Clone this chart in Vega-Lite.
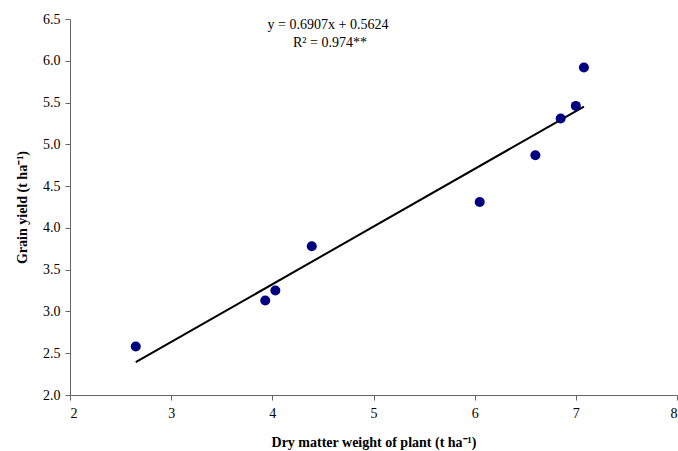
{
  "$schema": "https://vega.github.io/schema/vega-lite/v6.json",
  "width": 607,
  "height": 376,
  "autosize": {"type": "none"},
  "padding": {"left": 70, "top": 19, "right": 1, "bottom": 56},
  "background": "white",
  "config": {
    "view": {"stroke": null},
    "font": "Liberation Serif",
    "axis": {
      "grid": false,
      "domainColor": "#666666",
      "tickColor": "#666666",
      "tickSize": 5,
      "labelFont": "Liberation Serif",
      "labelFontSize": 14,
      "labelColor": "#000",
      "titleFont": "Liberation Serif",
      "titleFontSize": 14,
      "titleFontWeight": "bold",
      "titleColor": "#000"
    }
  },
  "datasets": {
    "points": [
      {"dm": 2.65, "gy": 2.58},
      {"dm": 3.93, "gy": 3.13},
      {"dm": 4.03, "gy": 3.25},
      {"dm": 4.39, "gy": 3.78},
      {"dm": 6.05, "gy": 4.31},
      {"dm": 6.6, "gy": 4.87},
      {"dm": 6.85, "gy": 5.31},
      {"dm": 7.0, "gy": 5.46},
      {"dm": 7.08, "gy": 5.92}
    ],
    "trend": [
      {"dm": 2.65, "gy": 2.393},
      {"dm": 7.08, "gy": 5.452}
    ],
    "labels": [
      {"dm": 4.55, "gy": 6.43, "t": "y = 0.6907x + 0.5624"},
      {"dm": 4.57, "gy": 6.21, "t": "R² = 0.974**"}
    ]
  },
  "layer": [
    {
      "data": {"name": "trend"},
      "mark": {"type": "line", "color": "#000", "strokeWidth": 2},
      "encoding": {
        "x": {"field": "dm", "type": "quantitative", "scale": {"domain": [2, 8], "nice": false, "zero": false},
              "axis": {"values": [2, 3, 4, 5, 6, 7, 8], "format": "d", "title": "Dry matter weight of plant (t ha⁻¹)", "labelPadding": 6, "titlePadding": 15}},
        "y": {"field": "gy", "type": "quantitative", "scale": {"domain": [2, 6.5], "nice": false, "zero": false},
              "axis": {"values": [2, 2.5, 3, 3.5, 4, 4.5, 5, 5.5, 6, 6.5], "format": ".1f", "title": "Grain yield (t ha⁻¹)", "labelPadding": 5, "titlePadding": 13}}
      }
    },
    {
      "data": {"name": "points"},
      "mark": {"type": "circle", "color": "#000080", "opacity": 1, "size": 100},
      "encoding": {
        "x": {"field": "dm", "type": "quantitative"},
        "y": {"field": "gy", "type": "quantitative"}
      }
    },
    {
      "data": {"name": "labels"},
      "mark": {"type": "text", "font": "Liberation Serif", "fontSize": 14, "color": "#000", "align": "center", "baseline": "middle"},
      "encoding": {
        "x": {"field": "dm", "type": "quantitative"},
        "y": {"field": "gy", "type": "quantitative"},
        "text": {"field": "t"}
      }
    }
  ]
}
